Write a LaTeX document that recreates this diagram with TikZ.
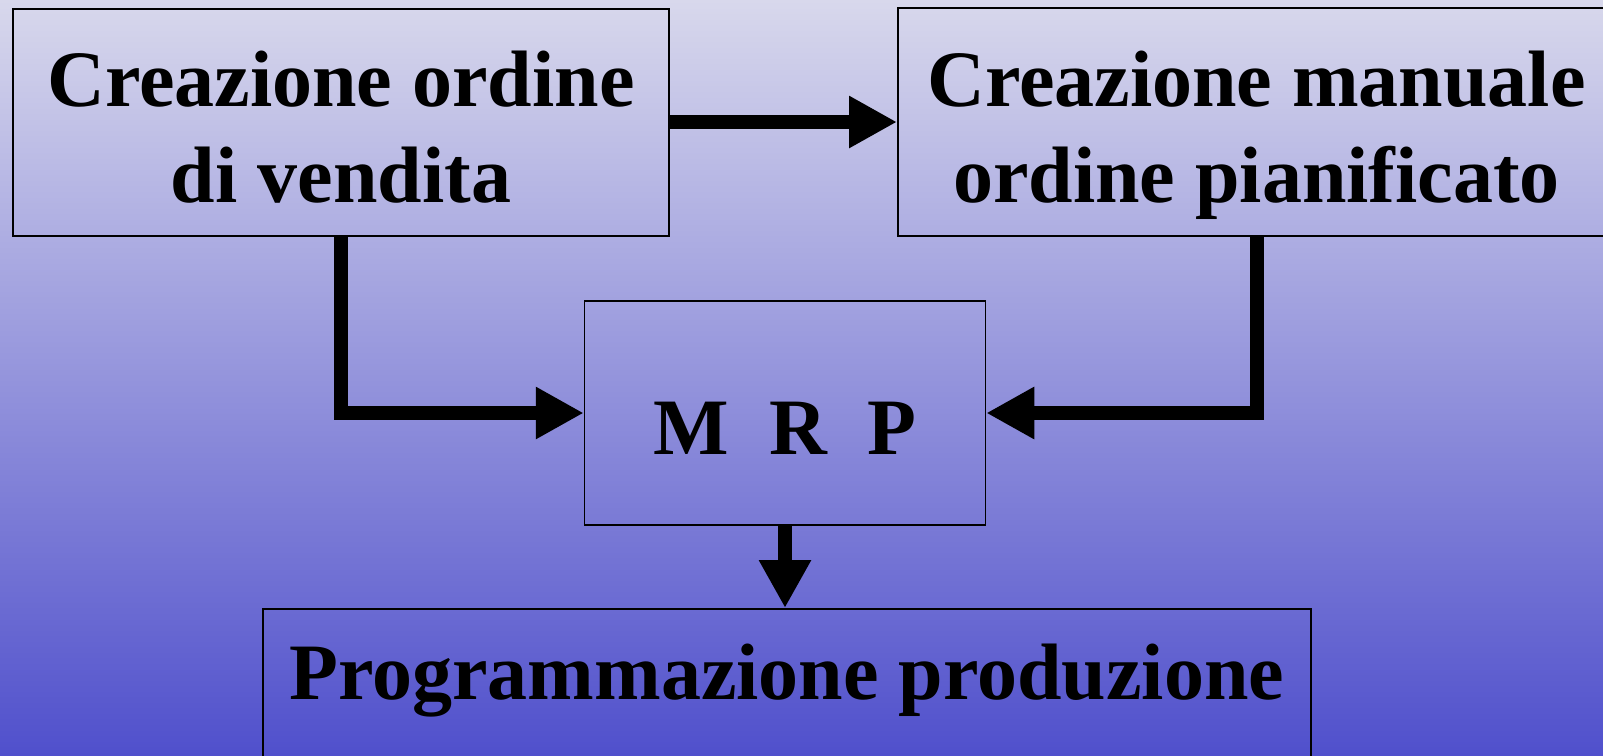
\documentclass[tikz,border=0pt]{standalone}
\usepackage{fontspec}
\setmainfont{Liberation Serif}
\usetikzlibrary{arrows.meta}

\definecolor{bgtop}{RGB}{216,216,236}
\definecolor{bgmid}{RGB}{158,158,222}
\definecolor{bgbot}{RGB}{80,80,204}

\begin{document}
\begin{tikzpicture}[
    x=1pt, y=-1pt,
    font=\fontsize{80}{96}\selectfont\bfseries,
    box/.style={draw, line width=2pt, inner sep=0pt, align=center},
    flow/.style={line width=14pt, -{Triangle[length=48pt, width=49pt]}},
  ]
    % frame and background
    \useasboundingbox (0,0) rectangle (1603,755);
    \clip (0,0) rectangle (1603,755);
    \shade[top color=bgtop, middle color=bgmid, bottom color=bgbot] (0,0) rectangle (1603,755);
    % boxes
    \node[box, minimum width=656pt, minimum height=227pt, text height=160pt, text depth=0pt]
      (ov) at (341,122) {Creazione ordine\\di vendita};
    \node[box, minimum width=717pt, minimum height=228pt, text height=160pt, text depth=0pt]
      (op) at (1256.5,122) {Creazione manuale\\ordine pianificato};
    \node[box, line width=1.5pt, minimum width=401pt, minimum height=224pt, text height=82pt, text depth=0pt]
      (mrp) at (785,413) {M\ \ R\ \ P};
    \node[box, minimum width=1048pt, minimum height=190pt, text height=54pt, text depth=64pt]
      (prod) at (786.7,704) {Programmazione produzione};
    % connectors
    \draw[flow] (ov.east) -- (ov.east -| op.west);
    \draw[flow] (ov.south) |- (mrp.west);
    \draw[flow] (op.south) |- (mrp.east);
    \draw[flow] (mrp.south) -- (mrp.south |- prod.north);
  \end{tikzpicture}
\end{document}
